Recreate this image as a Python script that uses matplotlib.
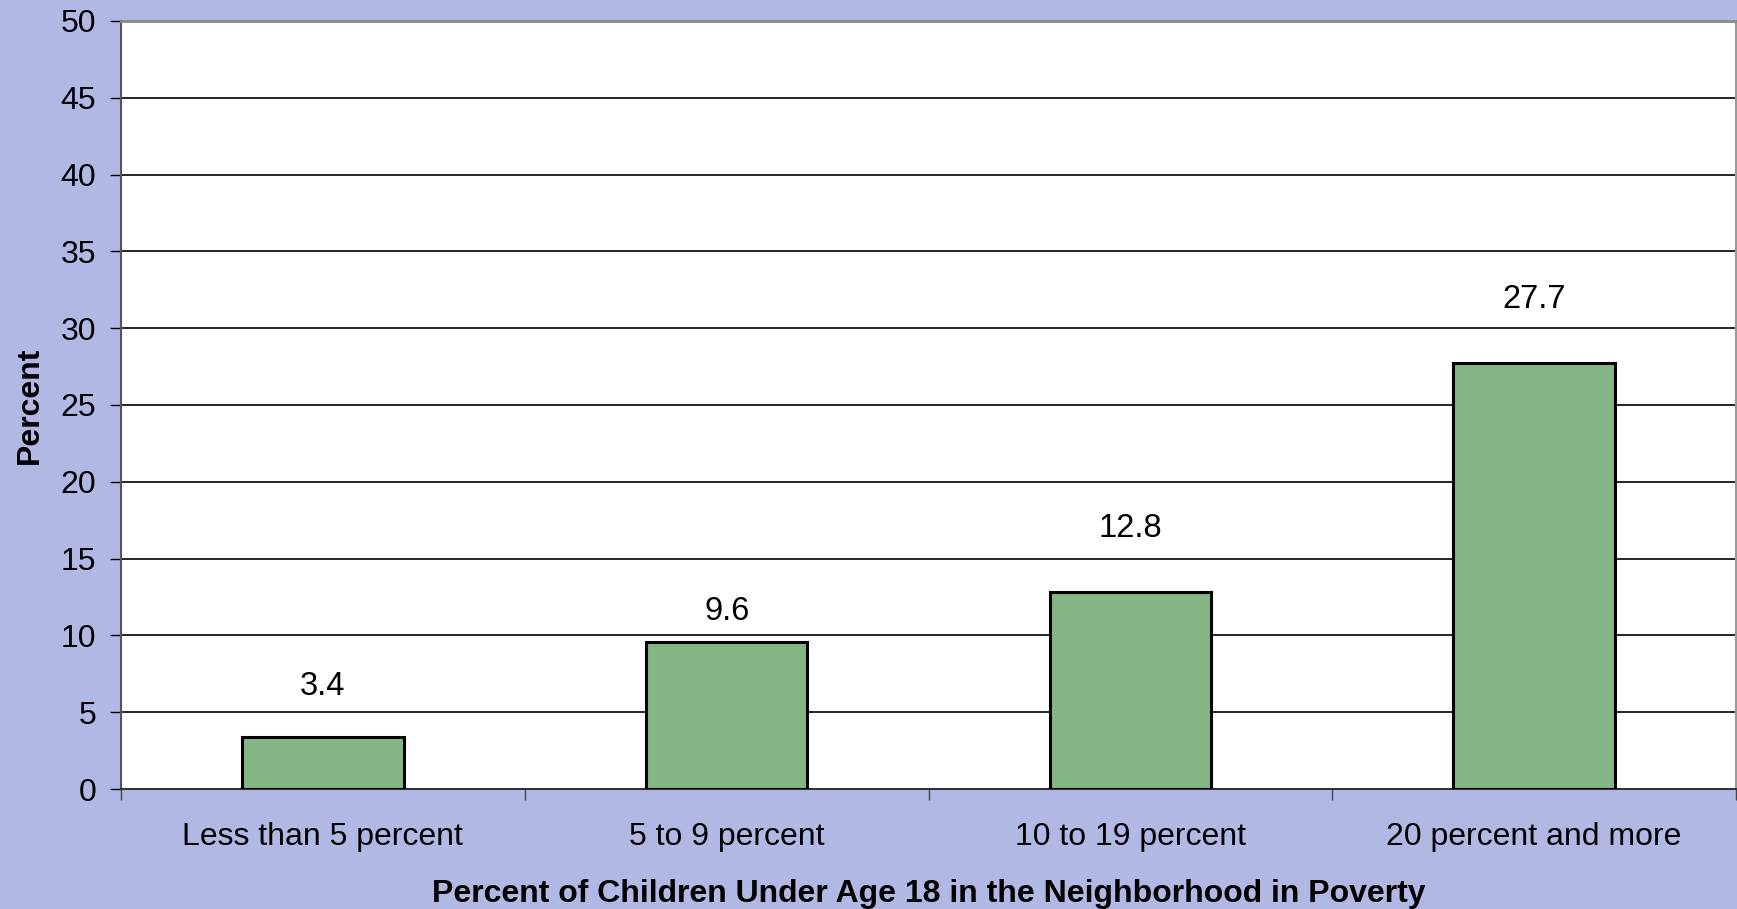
import numpy as np
import matplotlib.pyplot as plt

plt.rcParams['font.family'] = ['Liberation Sans', 'DejaVu Sans']

# share of children in poverty, by neighborhood poverty level
categories = ["Less than 5 percent", "5 to 9 percent", "10 to 19 percent", "20 percent and more"]
values = [3.4, 9.6, 12.8, 27.7]
yticks = [0, 5, 10, 15, 20, 25, 30, 35, 40, 45, 50]

# how far above each bar its label sits (data units)
label_gap = [3.25, 1.95, 4.15, 4.15]

bg = "#B2B8E4"
bar_color = "#84B584"

fig = plt.figure(figsize=(17.37, 9.09), dpi=100, facecolor=bg)
ax = fig.add_axes([0.0697, 0.132, 0.9297, 0.845])
ax.set_facecolor("white")

x = np.arange(len(categories))
ax.bar(x, values, width=0.4, color=bar_color, edgecolor="black", linewidth=2.2, zorder=3)

for xi, v, g in zip(x, values, label_gap):
    ax.text(xi, v + g, f"{v}", ha="center", va="center", fontsize=23.5, color="black", zorder=4)

ax.set_xlim(-0.5, len(categories) - 0.5)
ax.set_ylim(0, 50)
ax.set_yticks(yticks)
ax.set_yticklabels([str(t) for t in yticks], fontsize=23)
ax.yaxis.grid(True, color="black", linewidth=1.2, zorder=0)

# category names in the middle, ticks at the boundaries
ax.set_xticks(x)
ax.set_xticklabels(categories, fontsize=23)
ax.tick_params(axis="x", which="major", length=0, pad=24)
ax.set_xticks(np.arange(-0.5, len(categories), 1.0), minor=True)
ax.tick_params(axis="x", which="minor", length=8, width=1, color="#444444", direction="out")
ax.tick_params(axis="y", length=8, width=1, color="black", direction="out", pad=10)

ax.spines["top"].set_color("#888888")
ax.spines["top"].set_linewidth(2)
ax.spines["right"].set_color("#999999")
ax.spines["right"].set_linewidth(1.5)
ax.spines["left"].set_color("#555555")
ax.spines["left"].set_linewidth(1.5)
ax.spines["bottom"].set_color("#333333")
ax.spines["bottom"].set_linewidth(1.5)

ax.set_ylabel("Percent", fontsize=23, fontweight="bold", labelpad=11)
ax.set_xlabel("Percent of Children Under Age 18 in the Neighborhood in Poverty",
              fontsize=23, fontweight="bold", labelpad=19)

fig.savefig("out.png", dpi=100, facecolor=bg)
